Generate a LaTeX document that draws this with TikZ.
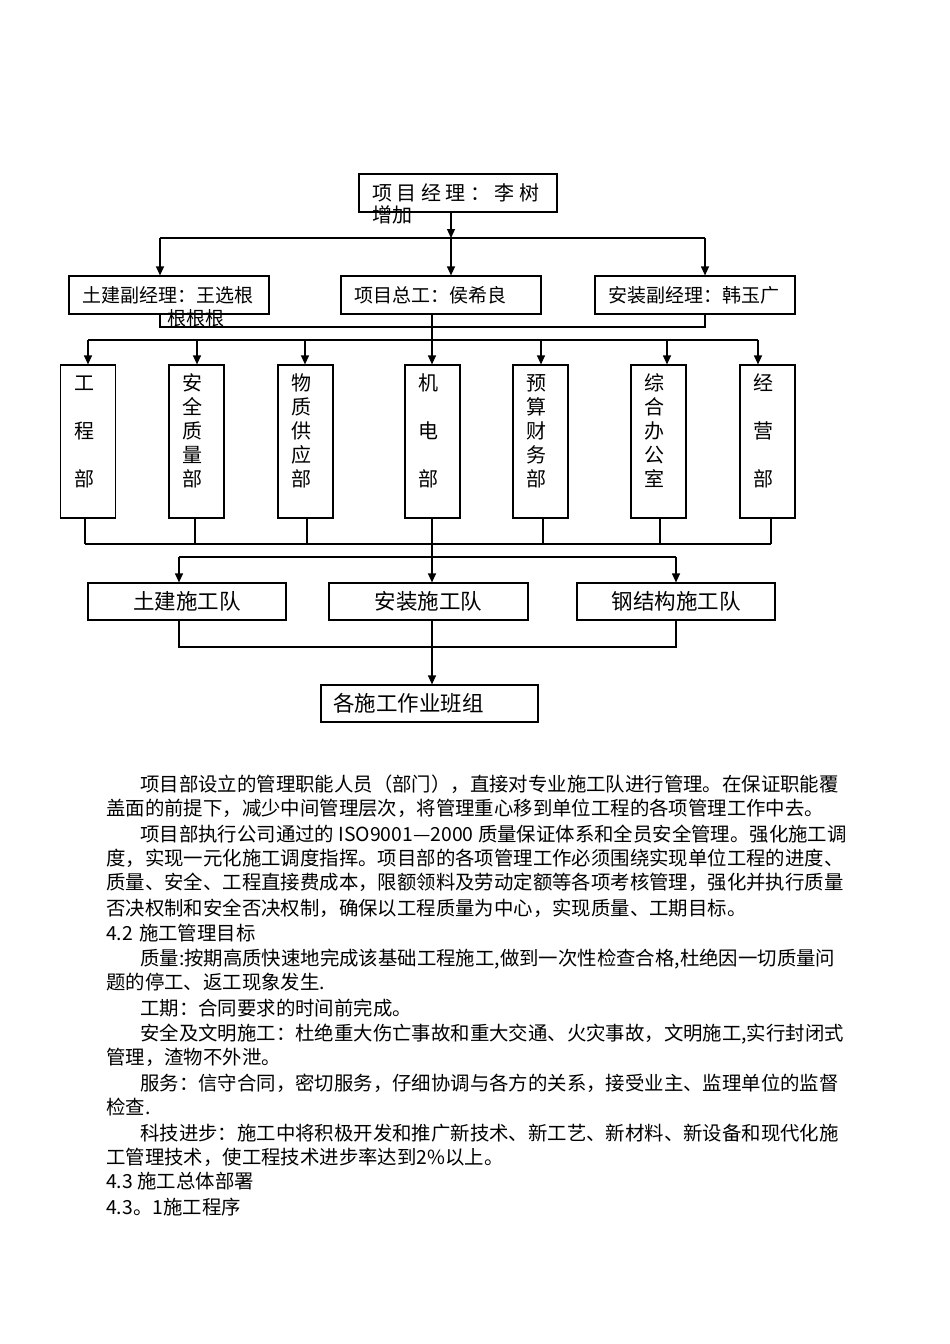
\documentclass[tikz,border=0pt]{standalone}
\usepackage{fontspec}
\setmainfont{Noto Sans CJK SC}
\usetikzlibrary{arrows.meta,positioning}

\tikzset{
  box/.style={draw, line width=1.2pt, rectangle, inner sep=0pt},
  link/.style={line width=1.2pt},
  arr/.style={link, -{Triangle[width=8pt,length=9pt]}},
  txt/.style={inner sep=0pt, anchor=base west},
}

\begin{document}
\begin{tikzpicture}[x=1pt,y=-1pt]
  \useasboundingbox (0,0) rectangle (950,1344);
  \def\big{\fontsize{20}{24}\selectfont}
  \def\mid{\fontsize{19}{22}\selectfont}
  \def\team{\fontsize{21.5}{26}\selectfont}
  \def\body{\fontsize{19.4}{24}\selectfont}

  % top level
  \node[box, minimum width=198pt, minimum height=38pt] (pm) at (458,193) {};
  \node[txt, font=\big] (pmname) at (372,200.6) {项 目 经 理 ： 李 树};
  \node[txt, font=\big] (pmmore) at (372,222.6) {增加};

  % deputies
  \node[box, minimum width=200pt, minimum height=38pt] (tjfu) at (169,295) {};
  \node[box, minimum width=200pt, minimum height=38pt] (zg)   at (441,295) {};
  \node[box, minimum width=200pt, minimum height=38pt] (azfu) at (695,295) {};
  \node[txt, font=\mid] (tjfuname) at (82,302.2) {土建副经理：王选根};
  \node[txt, font=\mid] (tjfumore) at (167,325.2) {根根根};
  \node[txt, font=\mid] (zgname)   at (354,302.2) {项目总工：侯希良};
  \node[txt, font=\mid] (azfuname) at (608,302.2) {安装副经理：韩玉广};

  \coordinate (top) at (451,238);
  \draw[arr] (pm.south -| top) -- (top);
  \draw[link] (160,238) -- (705,238);
  \draw[arr] (160,238) -- (tjfu.north -| 160,0);
  \draw[arr] (top) -- (zg.north -| top);
  \draw[arr] (705,238) -- (azfu.north -| 705,0);
  \draw[link] (tjfu.south -| 160,0) -- (160,327) -- (705,327) -- (azfu.south -| 705,0);

  % departments
  \coordinate (dep) at (432,340);
  \draw[link] (zg.south -| dep) -- (dep);
  \draw[link] (88,340) -- (758,340);
  \foreach \nm/\cx/\ax/\bx/\gap/\chars in {
      gcb/88/88/85/48/{工,程,部},
      aqb/196.5/197/195/24/{安,全,质,量,部},
      wzb/305.5/305/307/24/{物,质,供,应,部},
      jdb/432.5/432/432/48/{机,电,部},
      ysb/540.5/541/543/24/{预,算,财,务,部},
      zhb/658.5/667/660/24/{综,合,办,公,室},
      jyb/767.5/758/771/48/{经,营,部}} {
    \node[box, minimum width=55pt, minimum height=153pt] (\nm) at (\cx,441.5) {};
    \draw[arr] (\ax,340) -- (\nm.north -| \ax,0);
    \draw[link] (\nm.south -| \bx,0) -- (\bx,544);
    \foreach \c [count=\k] in \chars
      \node[inner sep=0pt, anchor=base, font=\big] (\nm-\k) at (\cx-4,390.6+\gap*\k-\gap) {\c};
  }
  \draw[link] (85,544) -- (771,544);

  % construction teams
  \node[box, minimum width=198pt, minimum height=37pt, font=\team] (tjd) at (187,601.5) {土建施工队};
  \node[box, minimum width=199pt, minimum height=37pt, font=\team] (azd) at (428.5,601.5) {安装施工队};
  \node[box, minimum width=198pt, minimum height=37pt, font=\team] (gjd) at (676,601.5) {钢结构施工队};
  \coordinate (mid) at (432,557);
  \draw[link] (jdb.south -| mid) -- (mid);
  \draw[link] (179,557) -- (676,557);
  \draw[arr] (179,557) -- (tjd.north -| 179,0);
  \draw[arr] (mid) -- (azd.north -| mid);
  \draw[arr] (676,557) -- (gjd.north -| 676,0);

  % work groups
  \node[box, minimum width=217pt, minimum height=37pt] (bz) at (429.5,703.5) {};
  \node[txt, font=\team] (bzname) at (333,711.7) {各施工作业班组};
  \draw[link] (tjd.south -| 179,0) -- (179,647) -- (676,647) -- (gjd.south -| 676,0);
  \draw[arr] (azd.south -| mid) -- (bz.north -| mid);

  % text below
  \foreach \x/\y/\line [count=\i] in {
      140/784/{项目部设立的管理职能人员（部门），直接对专业施工队进行管理。在保证职能覆},
      106/808/{盖面的前提下，减少中间管理层次，将管理重心移到单位工程的各项管理工作中去。},
      140/834/{项目部执行公司通过的 ISO9001—2000 质量保证体系和全员安全管理。强化施工调},
      106/858/{度，实现一元化施工调度指挥。项目部的各项管理工作必须围绕实现单位工程的进度、},
      106/882/{质量、安全、工程直接费成本，限额领料及劳动定额等各项考核管理，强化并执行质量},
      106/908/{否决权制和安全否决权制，确保以工程质量为中心，实现质量、工期目标。},
      106/933/{4.2\hspace{6pt}施工管理目标},
      140/958/{质量:按期高质快速地完成该基础工程施工,做到一次性检查合格,杜绝因一切质量问},
      106/982/{题的停工、返工现象发生.},
      140/1008/{工期：合同要求的时间前完成。},
      140/1033/{安全及文明施工：杜绝重大伤亡事故和重大交通、火灾事故，文明施工,实行封闭式},
      106/1057/{管理，渣物不外泄。},
      140/1083/{服务：信守合同，密切服务，仔细协调与各方的关系，接受业主、监理单位的监督},
      106/1107/{检查.},
      140/1133/{科技进步：施工中将积极开发和推广新技术、新工艺、新材料、新设备和现代化施},
      106/1157/{工管理技术，使工程技术进步率达到2\%以上。},
      106/1181/{4.3 施工总体部署},
      106/1207/{4.3。1施工程序}} {
    \node[txt, font=\body] (p\i) at (\x,\y+7.4) {\line};
  }
\end{tikzpicture}
\end{document}
